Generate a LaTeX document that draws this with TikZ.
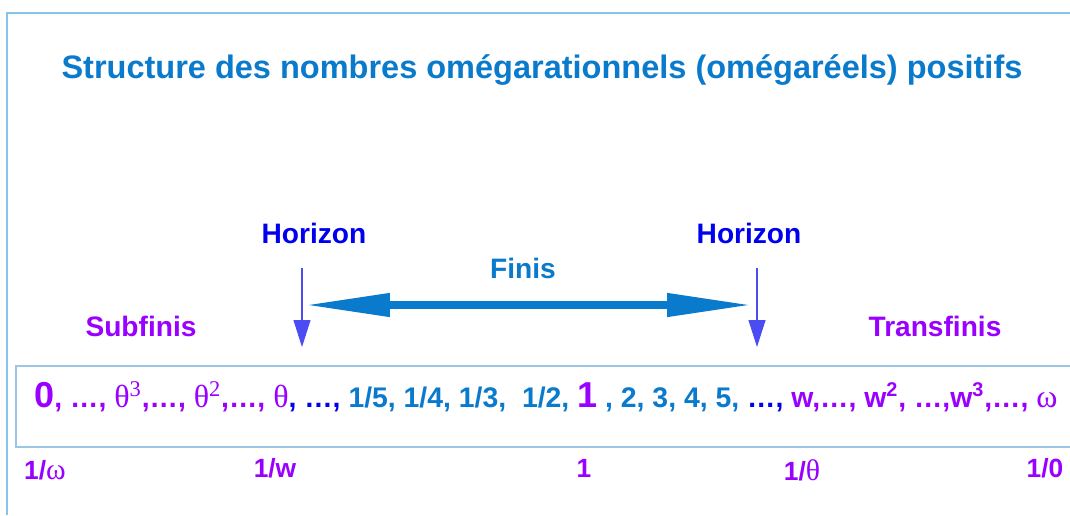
\documentclass[tikz,border=0pt]{standalone}
\usepackage{fontspec}
\setmainfont{Liberation Sans}
\newfontfamily\greekfont{Liberation Serif}[Scale=1.13]
\usetikzlibrary{arrows.meta}
\definecolor{omegablue}{HTML}{0A7ACC}
\definecolor{horizonblue}{HTML}{0000EE}
\definecolor{transviolet}{HTML}{9900FF}
\definecolor{framecyan}{HTML}{86C5EB}
\definecolor{boxcyan}{HTML}{9CC6E4}
\newcommand{\gk}[1]{{\mdseries\greekfont #1}}
\tikzset{
	lbl/.style={font=\bfseries\fontsize{16}{19}\selectfont, inner sep=1pt},
	horizon/.style={lbl, text=horizonblue},
	zone/.style={lbl, text=transviolet},
	ticklbl/.style={lbl, text=transviolet, font=\bfseries\fontsize{15}{18}\selectfont},
	drop/.style={-{Triangle[length=5.4mm, width=3.4mm]}, line width=0.6pt, horizonblue!70},
	finarr/.style={{Triangle[length=17mm, width=4.4mm]}-{Triangle[length=17mm, width=4.4mm]}, line width=4.3pt, omegablue},
}

\begin{document}
\begin{tikzpicture}[x=0.02cm, y=-0.02cm]
	\useasboundingbox (0,0) rectangle (1070,515);
	% frames
	\draw[framecyan, line width=1.1pt] (7,515) -- (7,13) -- (1075,13);
	\draw[boxcyan, line width=0.9pt] (16,366) rectangle (1080,447);

	\node[lbl, text=omegablue, font=\bfseries\fontsize{18.5}{22}\selectfont] (title) at (542,70)
	{Structure des nombres omégarationnels (omégaréels) positifs};

	\node[horizon] (horL) at (314,233) {Horizon};
	\node[horizon] (horR) at (749,233) {Horizon};
	\node[lbl, text=omegablue] (finis) at (523,268) {Finis};
	\node[zone] (subf) at (141,326) {Subfinis};
	\node[zone] (transf) at (935,326) {Transfinis};

	% ligne des nombres
	\node[anchor=west, font=\bfseries\fontsize{16.15}{19}\selectfont, inner sep=0pt] (row) at (34,397)
	{\color{transviolet}{\fontsize{20.5}{22}\selectfont 0}, …, \gk{θ}\textsuperscript{\gk{3}},…, \gk{θ}\textsuperscript{\gk{2}},…, \gk{θ}\color{horizonblue}, …, \color{omegablue}1/5, 1/4, 1/3,\ \ 1/2, {\color{transviolet}\fontsize{20.5}{22}\selectfont 1} , 2, 3, 4, 5, {\color{horizonblue}…,} \color{transviolet}w,…, w\textsuperscript{2}, …,w\textsuperscript{3},…, \gk{ω}};

	\node[ticklbl, anchor=west] (inv-omega) at (22,470) {1/\gk{ω}};
	\node[ticklbl] (inv-w) at (275,468) {1/w};
	\node[ticklbl] (one) at (584,468) {1};
	\node[ticklbl] (inv-theta) at (802,470) {1/\gk{θ}};
	\node[ticklbl] (inv-zero) at (1045,468) {1/0};

	\coordinate (dropL) at (302,268);
	\coordinate (tipL) at (302,347);
	\coordinate (dropR) at (757,268);
	\coordinate (tipR) at (757,347);
	\coordinate (finL) at (305,305);
	\coordinate (finR) at (752,305);

	\draw[drop] (dropL) -- (tipL);
	\draw[drop] (dropR) -- (tipR);
	\draw[finarr] (finL) -- (finR);
\end{tikzpicture}
\end{document}
